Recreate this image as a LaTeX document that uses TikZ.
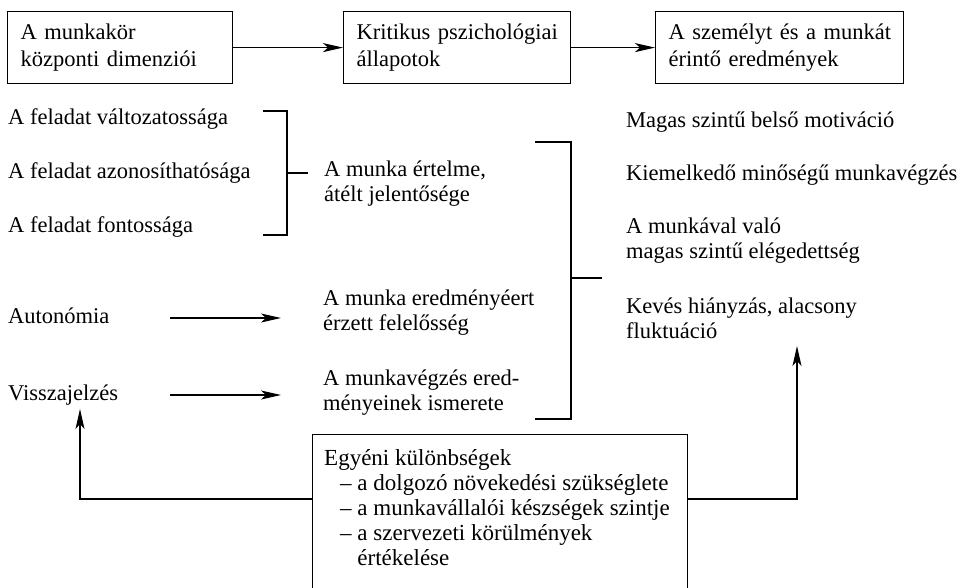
\documentclass[tikz,border=0pt]{standalone}
\usepackage{fontspec}
\setmainfont{Liberation Serif}
\newfontfamily\boxfont{Liberation Serif}
\usetikzlibrary{arrows.meta}
\begin{document}
\begin{tikzpicture}[x=1pt,y=-1pt,
  every node/.style={inner sep=0pt, font=\fontsize{22.5}{25}\selectfont},
  hbox/.style={draw, line width=1.2pt, anchor=north west, align=left, inner xsep=13pt, inner ysep=0pt, minimum height=72pt, font=\fontsize{22.5}{26.5}\selectfont},
  txt/.style={anchor=base west, align=left},
  arr/.style={line width=1.2pt, -{Stealth[length=20pt,width=9pt,inset=5pt]}},
  ln/.style={line width=1.2pt}]
\useasboundingbox (0,0) rectangle (964,587);
\clip (0,0) rectangle (964,587);
% top row
\node[hbox, text width=199pt] (b1) at (7,11) {\mbox{A munkakör}\\\mbox{központi dimenziói}};
\node[hbox, text width=201pt] (b2) at (343,11) {\mbox{Kritikus pszichológiai}\\\mbox{állapotok}};
\node[hbox, text width=222pt] (b3) at (655,11) {\mbox{A személyt és a munkát}\\\mbox{érintő eredmények}};
\draw[arr] (b1.east) -- (b2.west);
\draw[arr] (b2.east) -- (b3.west);
% left column
\node[txt] (f1) at (8,124) {A feladat változatossága};
\node[txt] (f2) at (8,178) {A feladat azonosíthatósága};
\node[txt] (f3) at (8,232) {A feladat fontossága};
\node[txt] (auto) at (8,323) {Autonómia};
\node[txt] (vissza) at (8,400) {Visszajelzés};
% small bracket
\draw[ln] (263,111) -- (287,111) -- (287,235) -- (263,235);
\draw[ln] (287,173) -- (308,173);
% middle column (base anchor = last line)
\node[txt] (s1) at (324,201) {A munka értelme,\\átélt jelentősége};
\node[txt] (s2) at (323,330) {A munka eredményéert\\érzett felelősség};
\node[txt] (s3) at (323,410) {A munkavégzés ered-\\ményeinek ismerete};
\coordinate (a1s) at (170,318); \coordinate (a1e) at (281,318);
\draw[arr] (a1s) -- (a1e);
\coordinate (a2s) at (170,395); \coordinate (a2e) at (281,395);
\draw[arr] (a2s) -- (a2e);
% big bracket
\draw[ln] (535,142) -- (571,142) -- (571,419) -- (535,419);
\draw[ln] (571,278) -- (602,278);
% right column
\node[txt] (r1) at (626,127) {Magas szintű belső motiváció};
\node[txt] (r2) at (626,180) {Kiemelkedő minőségű munkavégzés};
\node[txt] (r3) at (626,258) {A munkával való\\magas szintű elégedettség};
\node[txt] (r4) at (626,338) {Kevés hiányzás, alacsony\\fluktuáció};
% bottom box
\node[draw, line width=1.2pt, anchor=north west, minimum width=375pt, minimum height=200pt] (ind) at (312,434) {};
\node[txt, font=\boxfont\fontsize{23}{25}\selectfont] (indt) at (324,565)
  {Egyéni különbségek\\
   \hspace*{16pt}– a dolgozó növekedési szükséglete\\
   \hspace*{16pt}– a munkavállalói készségek szintje\\
   \hspace*{16pt}– a szervezeti körülmények\\
   \hspace*{16pt}\phantom{– }értékelése};
% feedback arrows
\coordinate (fl) at (80,499); \coordinate (ftl) at (80,409);
\draw[arr] (ind.west |- fl) -- (fl) -- (ftl);
\coordinate (fr) at (797,499); \coordinate (ftr) at (797,346);
\draw[arr] (ind.east |- fr) -- (fr) -- (ftr);
\end{tikzpicture}
\end{document}
